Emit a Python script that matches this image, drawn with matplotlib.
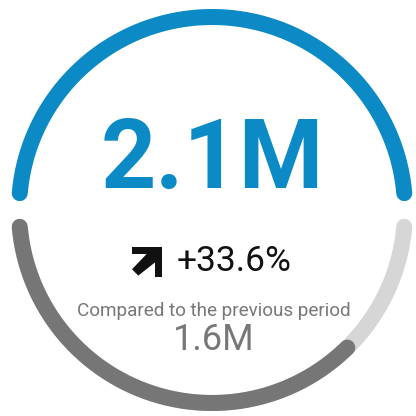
import numpy as np
import matplotlib
matplotlib.use("Agg")
import matplotlib.pyplot as plt
from matplotlib.patches import Polygon

# ---- data ----
current_value = 2.1e6
previous_value = 1.6e6
current_label = "2.1M"
previous_label = "1.6M"
change_label = "+33.6%"
compare_label = "Compared to the previous period"

BLUE = "#0b8ac6"
DARK = "#767676"
LIGHT = "#d6d6d6"
GRAYTXT = "#777777"

W = H = 416
fig = plt.figure(figsize=(W / 100, H / 100), dpi=100)
ax = fig.add_axes([0, 0, 1, 1])
ax.set_xlim(0, W)
ax.set_ylim(H, 0)
ax.axis("off")

cx, cy, R = 212.0, 210.0, 193.0
lw = 16 * 72 / 100  # 16 px stroke
gap = 5.0  # degrees on each side of the horizontal


def arc(a0, a1, color, z):
    t = np.radians(np.linspace(a0, a1, 300))
    ax.plot(cx + R * np.cos(t), cy - R * np.sin(t), color=color, lw=lw,
            solid_capstyle="round", zorder=z)


# top arc: current value (full)
arc(gap, 180 - gap, BLUE, 2)
# bottom arc: background track and previous value share
start = 180 + gap
end = 360 - gap
arc(start, end, LIGHT, 1)
frac = previous_value / current_value
arc(start, start + frac * (end - start), DARK, 2)

font = "Roboto"
ax.text(cx, 188, current_label, ha="center", va="baseline", fontsize=69.5,
        fontweight="bold", color=BLUE, family=font)


# arrow icon (north-east)
def arrow_icon(x0, y0, size, th, color):
    xr, yt = x0 + size, y0
    pts = [
        (x0, yt), (xr, yt), (xr, yt + size), (xr - th, yt + size),
        (xr - th, yt + th * 2.2),
        (x0 + th * 0.9, yt + size - th * 0.2),
        (x0, yt + size - th * 1.1),
        (xr - th * 2.2, yt + th), (x0, yt + th),
    ]
    ax.add_patch(Polygon(pts, closed=True, color=color, lw=0, zorder=3))


arrow_icon(132, 247, 30, 7, "#111111")

ax.text(177, 271, change_label, ha="left", va="baseline", fontsize=25.5,
        color="#111111", family=font)
ax.text(cx + 2, 316, compare_label, ha="center", va="baseline", fontsize=13.6,
        color=GRAYTXT, family=font)
ax.text(cx + 2, 350, previous_label, ha="center", va="baseline", fontsize=26,
        color=GRAYTXT, family=font)

fig.savefig("out.png", dpi=100)
